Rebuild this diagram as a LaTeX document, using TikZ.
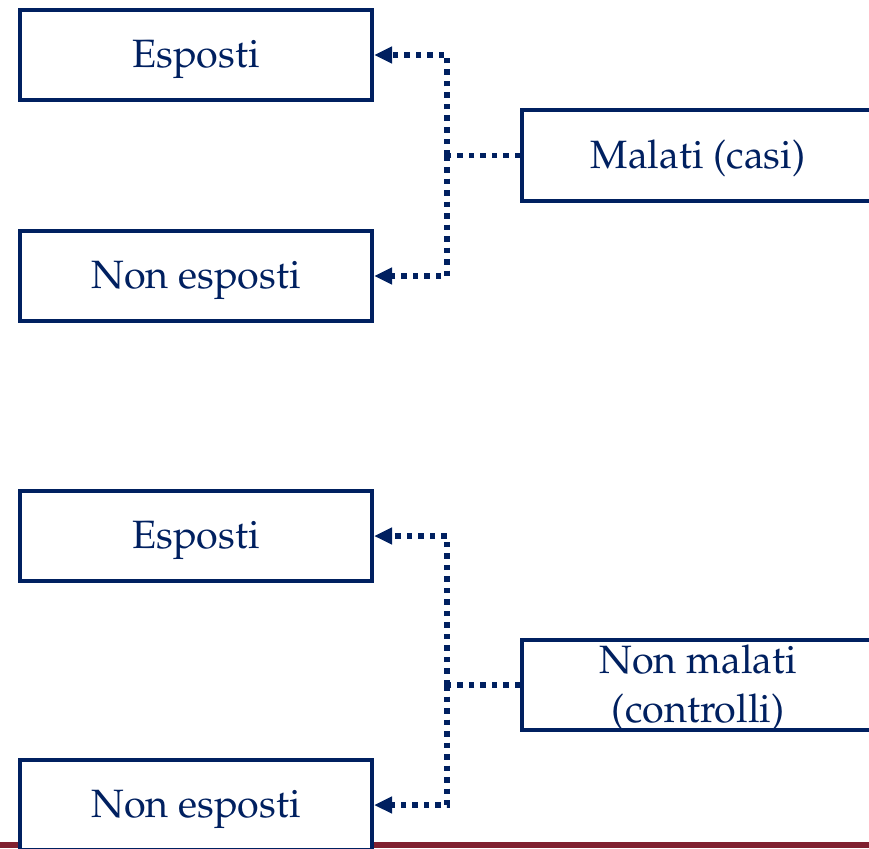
\documentclass[tikz,border=0pt]{standalone}
\usepackage[T1]{fontenc}
\usepackage{mathpazo}
\usetikzlibrary{arrows.meta}
\usetikzlibrary{positioning}
\definecolor{navy}{RGB}{0,32,96}
\definecolor{wine}{RGB}{128,32,48}
\tikzset{group box/.style={rectangle,draw=navy,line width=4pt,fill=white,text=navy,
    minimum width=352pt,minimum height=90.5pt,inner sep=0pt,align=center,
    font=\fontsize{39.5}{49}\selectfont},
  one line/.style={text depth=3pt},
  link/.style={draw=navy,line width=5.5pt,dash pattern=on 5.5pt off 6pt},
  link arrow/.style={link,-{Triangle[length=18pt,width=16pt]}},}

\begin{document}
\begin{tikzpicture}[x=1pt,y=-1pt]
  \useasboundingbox (0,0) rectangle (869,848);
  \fill[wine] (0,842) rectangle (869,848);

  % casi
  \node[group box,one line] (esp1) at (196,55) {Esposti};
  \node[group box,one line] (nonesp1) at (196,276) {Non esposti};
  \node[group box,one line] (casi) at (698,155.5) {Malati (casi)};
  \coordinate (j1) at (447,155.5);

  \path[link] (casi.west) -- (j1);
  \path[link arrow] (j1) |- (esp1.east);
  \path[link arrow] (j1) |- (nonesp1.east);

  % controlli
  \node[group box,one line] (esp2) at (196,536) {Esposti};
  \node[group box,one line] (nonesp2) at (196,805) {Non esposti};
  \node[group box,text depth=2pt] (ctrl) at (698,685) {Non malati\\(controlli)};
  \coordinate (j2) at (447,685);

  \path[link] (ctrl.west) -- (j2);
  \path[link arrow] (j2) |- (esp2.east);
  \path[link arrow] (j2) |- (nonesp2.east);
\end{tikzpicture}
\end{document}
